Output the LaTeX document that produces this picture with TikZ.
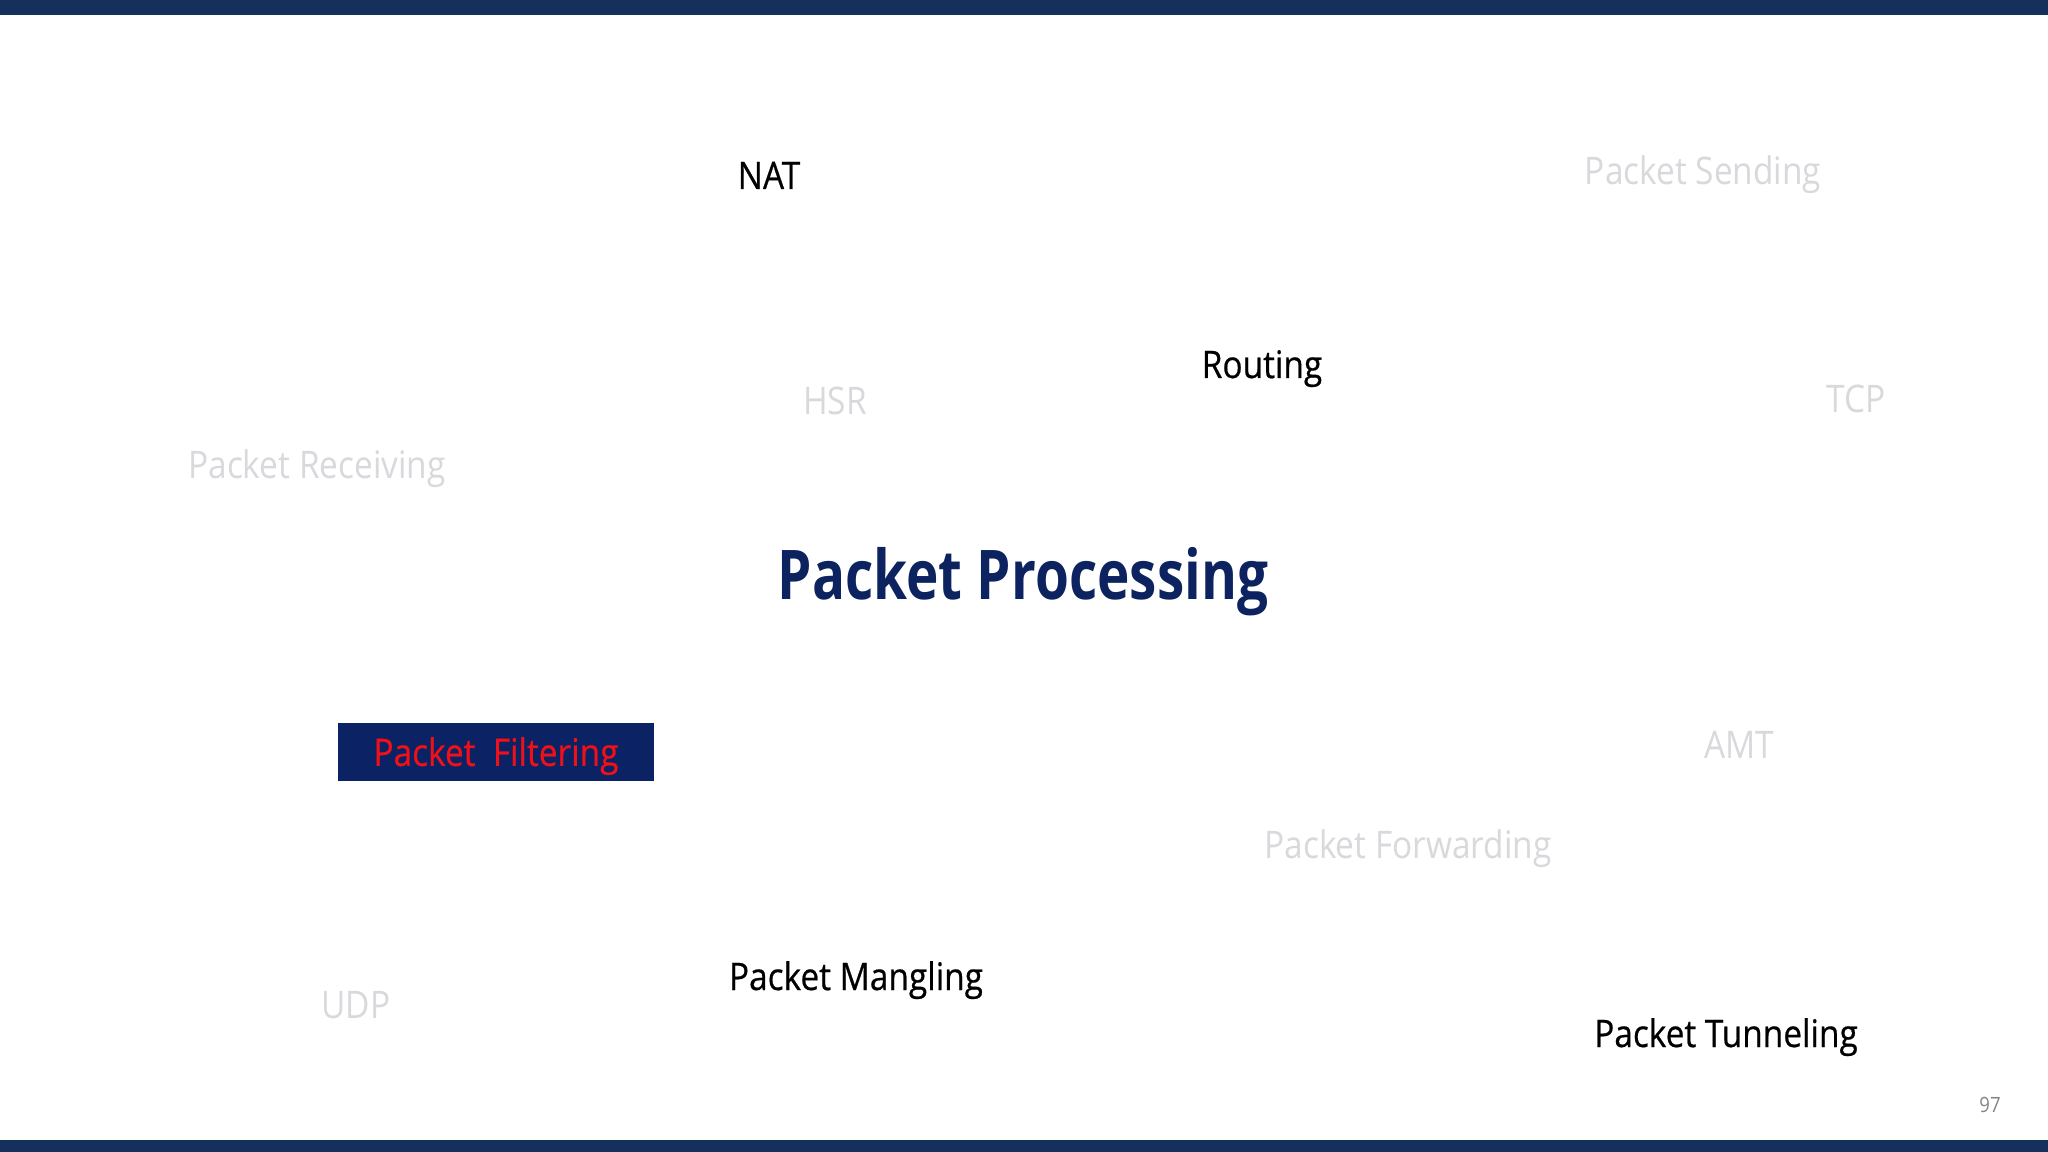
\documentclass[tikz,border=0pt]{standalone}
\usepackage{fontspec}
\setmainfont[FakeStretch=0.88, BoldFeatures={FakeStretch=0.80}]{Open Sans}
\newfontfamily\keyfont[FakeStretch=0.88, FakeBold=0.5]{Open Sans}
\usepackage{tikz}
\usetikzlibrary{calc}
\usetikzlibrary{positioning}

\definecolor{barblue}{HTML}{15305D}
\definecolor{titleblue}{HTML}{0D2360}
\definecolor{boxblue}{HTML}{0B2265}
\definecolor{hotred}{HTML}{F01018}
\definecolor{faded}{HTML}{D9D9DD}
\definecolor{pagegray}{HTML}{858585}

\tikzset{
  word/.style={anchor=base, inner sep=0pt, font=\fontsize{10.8}{13}\selectfont},
  dim/.style={word, text=faded},
  hot/.style={word, text=black, font=\keyfont\fontsize{10.8}{13}\selectfont},
}

\begin{document}
\begin{tikzpicture}[x=0.01cm, y=-0.01cm]
        % page and bars
        \fill[white] (0,0) rectangle (2048,1152);
        \useasboundingbox (0,0) rectangle (2048,1152);
        \fill[barblue] (0,0) rectangle (2048,15);
        \fill[barblue] (0,1140) rectangle (2048,1152);

        \node[word, text=titleblue, font=\bfseries\fontsize{19.5}{23}\selectfont] (title) at (1023,600) {Packet Processing};

        % highlighted topics
        \node[hot] (nat) at (769,189) {NAT};
        \node[hot] (routing) at (1262,378) {Routing};
        \node[hot] (mangling) at (856,990) {Packet Mangling};
        \node[hot] (tunneling) at (1726,1047) {Packet Tunneling};
        \node[fill=boxblue, text=hotred, inner sep=0pt, minimum width=3.16cm, minimum height=0.58cm,
              text height=10.5pt, font=\keyfont\fontsize{10.8}{13}\selectfont] (filtering) at (496,752) {Packet\ \ Filtering};

        % faded topics
        \node[dim] (sending) at (1703,185) {Packet Sending};
        \node[dim] (hsr) at (835,415) {HSR};
        \node[dim] (tcp) at (1856,413) {TCP};
        \node[dim] (receiving) at (317,479) {Packet Receiving};
        \node[dim] (amt) at (1739,758) {AMT};
        \node[dim] (forwarding) at (1408,858) {Packet Forwarding};
        \node[dim] (udp) at (356,1018) {UDP};

        \node[word, text=pagegray, font=\fontsize{6}{7}\selectfont] (page) at (1990,1112) {97};
    \end{tikzpicture}
\end{document}
